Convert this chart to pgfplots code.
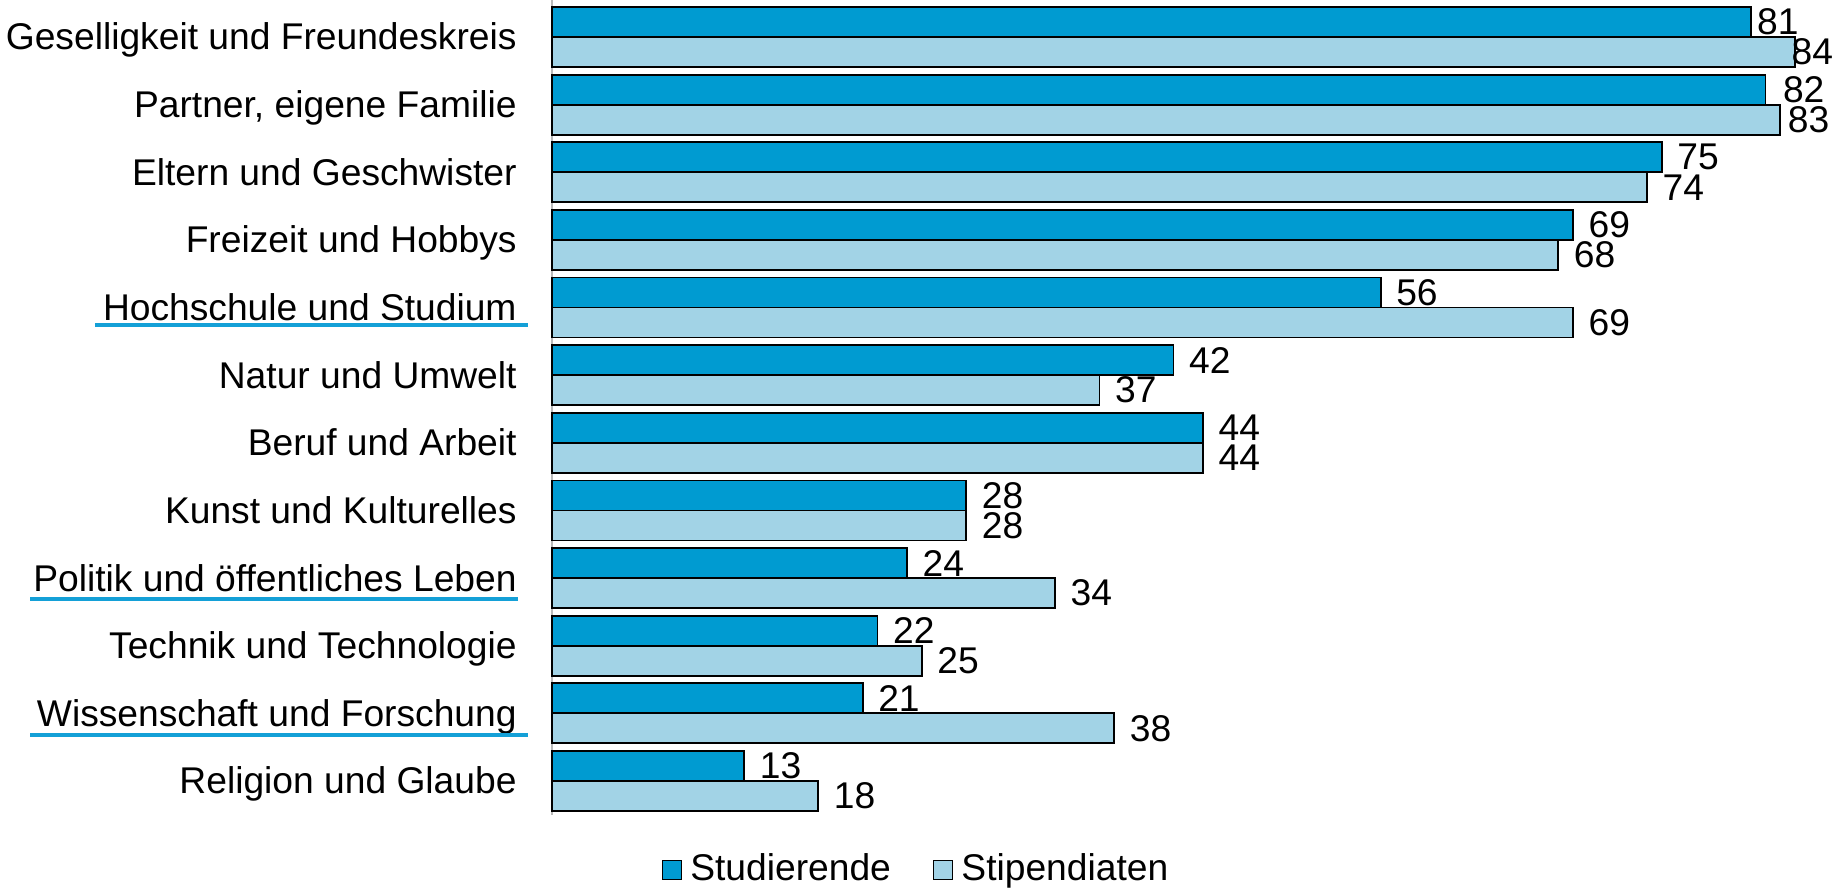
\documentclass[border=0pt]{standalone}
\usepackage{pgfplots}
\pgfplotsset{compat=1.18}
\usepackage{pgfplotstable}
\usepackage{fontspec}
\setmainfont{Liberation Sans}
\definecolor{cA}{RGB}{0,155,209}
\definecolor{cB}{RGB}{162,211,230}
\definecolor{ulc}{RGB}{20,160,215}

\pgfplotstableread{
y s p ds dp
11 81 84 2.8 -2.2
10 82 83 8.3 3.3
9 75 74 7.3 7.3
8 69 68 7.3 7.3
7 56 69 7.3 7.3
6 42 37 7.3 7.3
5 44 44 7.3 7.3
4 28 28 7.3 7.3
3 24 34 7.3 7.3
2 22 25 7.3 7.3
1 21 38 7.3 7.3
0 13 18 7.3 7.3
}\data

\begin{document}
\fontsize{18.6pt}{22pt}\selectfont
\begin{tikzpicture}
\useasboundingbox (-276pt,-38pt) rectangle (644.5pt,407.5pt);
\begin{axis}[
  at={(0pt,0pt)}, anchor=south west,
  scale only axis, width=644.5pt, height=407.5pt,
  xbar, bar width=15pt,
  xmin=0, xmax=87.1, ymin=-0.503, ymax=11.547,
  axis x line=none, axis y line=left,
  y axis line style={-, draw=gray!55, line width=1pt},
  ytick={0,...,11},
  yticklabels={Religion und Glaube, Wissenschaft und Forschung, Technik und Technologie, Politik und öffentliches Leben, Kunst und Kulturelles, Beruf und Arbeit, Natur und Umwelt, Hochschule und Studium, Freizeit und Hobbys, Eltern und Geschwister, {Partner, eigene Familie}, Geselligkeit und Freundeskreis},
  major tick length=0pt,
  yticklabel style={anchor=base east, inner sep=0pt, xshift=-17.5pt, yshift=-6.5pt},
  nodes near coords, point meta=x,
  nodes near coords style={anchor=west, inner sep=0pt, xshift=\dx pt, text=black},
  /pgf/number format/assume math mode=true,
  clip=false,
  legend columns=2,
  legend style={at={(0.2832,-0.0675)}, anchor=center, draw=none, fill=none,
    /tikz/every even column/.append style={column sep=19pt}, inner sep=0pt},
  legend image code/.code={\draw[#1, draw=black, line width=0.75pt] (0pt,-4.75pt) rectangle (9.5pt,4.75pt);},
]
\addplot[fill=cA, draw=black, line width=0.9pt, bar shift=7.5pt,
  visualization depends on={\thisrow{ds} \as \dx}] table[x=s, y=y] {\data};
\addplot[fill=cB, draw=black, line width=0.9pt, bar shift=-7.5pt,
  visualization depends on={\thisrow{dp} \as \dx}] table[x=p, y=y] {\data};
\legend{\hspace{2pt}Studierende, \hspace{2pt}Stipendiaten}
\draw[ulc, line width=1.75pt] (axis cs:-30.88,6.742) -- (axis cs:-1.62,6.742);
\draw[ulc, line width=1.75pt] (axis cs:-35.27,2.691) -- (axis cs:-2.30,2.691);
\draw[ulc, line width=1.75pt] (axis cs:-35.27,0.68) -- (axis cs:-1.62,0.68);
\end{axis}
\end{tikzpicture}
\end{document}
